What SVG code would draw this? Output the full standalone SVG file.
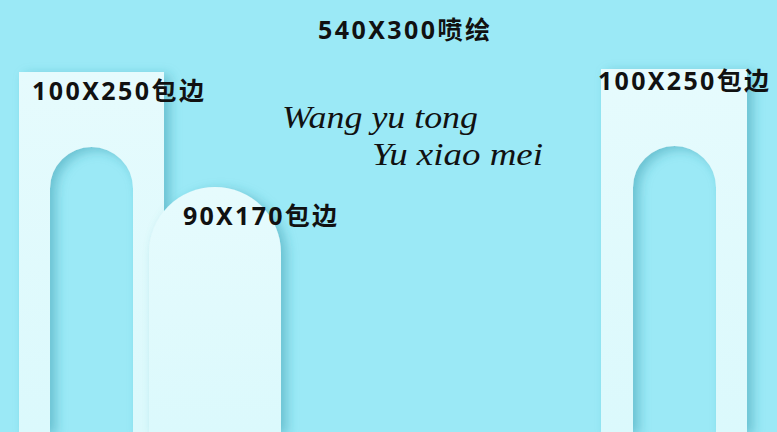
<svg xmlns="http://www.w3.org/2000/svg" width="777" height="432" viewBox="0 0 777 432">
<style>
.lbl{font-family:"Noto Sans","Noto Sans CJK SC",sans-serif;font-weight:bold;font-size:25px;fill:#111}
.scr{font-family:"Liberation Serif","DejaVu Serif",serif;font-style:italic;font-size:32px;fill:#111}
.panel{fill:url(#pg);filter:url(#sh)}
</style>
<defs>
<linearGradient id="pg" x1="0" y1="0" x2="0" y2="1">
<stop offset="0" stop-color="#e6fbfd"/>
<stop offset="1" stop-color="#dbf9fc"/>
</linearGradient>
<filter id="sh" x="-20%" y="-10%" width="150%" height="130%">
<feDropShadow dx="6" dy="3" stdDeviation="6" flood-color="#2a8fa3" flood-opacity="0.45"/>
</filter>
</defs>
<rect width="777" height="432" fill="#9be9f6"/>
<g id="left-panel">
<path class="panel" fill-rule="evenodd" d="M19 72H164V432H19Z M50 432V188.5A41.5 41.5 0 0 1 133 188.5V432Z"/>
</g>
<g id="middle-panel">
<path class="panel" d="M149 432V253A66 66 0 0 1 281 253V432Z"/>
</g>
<g id="right-panel">
<path class="panel" fill-rule="evenodd" d="M601 69H747V432H601Z M633 432V187.5A41.5 41.5 0 0 1 716 187.5V432Z"/>
</g>
<g id="connectors"/>
<g id="labels">
<text class="lbl" x="318" y="39" textLength="172" lengthAdjust="spacing">540X300喷绘</text>
<text class="lbl" x="32" y="100" textLength="172" lengthAdjust="spacing">100X250包边</text>
<text class="lbl" x="183" y="225" textLength="154" lengthAdjust="spacing">90X170包边</text>
<text class="lbl" x="598" y="90" textLength="171" lengthAdjust="spacing">100X250包边</text>
<text class="scr" x="282" y="128" textLength="196" lengthAdjust="spacingAndGlyphs">Wang yu tong</text>
<text class="scr" x="372" y="165" textLength="171" lengthAdjust="spacingAndGlyphs">Yu xiao mei</text>
</g>
</svg>
